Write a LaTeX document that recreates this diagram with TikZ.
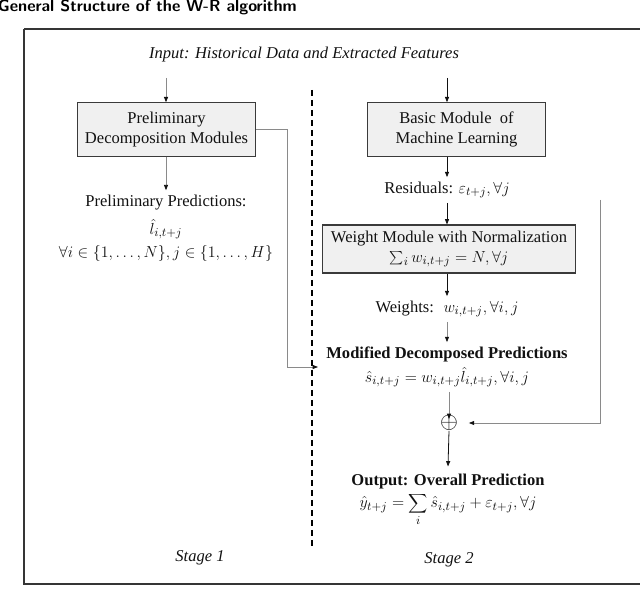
\documentclass[tikz,border=0pt]{standalone}
\usepackage{fontspec}
\setmainfont{Liberation Serif}
\usetikzlibrary{positioning,arrows.meta}
\definecolor{ink}{HTML}{111111}
\definecolor{ink2}{HTML}{8A8A8A}
\definecolor{boxf}{HTML}{F0F0F0}
\definecolor{boxb}{HTML}{3A3A3A}
\newcommand{\bodyfont}{\fontsize{12.4}{15}\selectfont}

\begin{document}
\begin{tikzpicture}[x=0.75pt, y=-0.75pt,
  txt/.style={font=\bodyfont, text=ink, align=center},
  box/.style={txt, draw=boxb, fill=boxf, line width=0.8pt, inner sep=3pt},
  arr/.style={-{Triangle[length=4pt, width=3pt]}, line width=0.6pt, draw=ink},
  arrg/.style={-{Triangle[length=4pt, width=3pt, color=ink]}, line width=0.6pt, draw=ink2}]
\useasboundingbox (0,0) rectangle (640,591);
% ---------------- frame and title
\node[anchor=base east, inner sep=0pt, font=\sffamily\bfseries\fontsize{12.2}{14}\selectfont] (title) at (297,12) {General Structure of the W-R algorithm};
\draw[line width=0.9pt, draw=ink!85] (24,29) -- (660,29) (24,29) -- (24,584) -- (660,584);
\node[txt, font=\bodyfont\itshape] (input) at (304,55) {Input: Historical Data and Extracted Features};
\draw[line width=1pt, dash pattern=on 4.5pt off 3pt] (312,90) -- (312,550);
\coordinate (inL) at (166,78);
\coordinate (inR) at (447,78);
\coordinate (rtop) at (600,200);
% ---------------- stage 1
\node[box, minimum width=134pt, minimum height=40pt] (prelim) at (166.5,129.5) {Preliminary\\Decomposition Modules};
\node[txt] (pp) at (166,228) {Preliminary Predictions:\\[6pt] $\hat{l}_{i,t+j}$\\[2pt] $\forall i\in\{1,\ldots,N\}, j\in\{1,\ldots,H\}$};
\draw[arrg] (inL) -- (prelim.north -| inL);
\draw[arrg] (prelim.south -| pp) -- (pp.north);
\draw[arrg] (prelim.east) -- ++(31,0) |- (318,367);
\node[txt, font=\bodyfont\itshape] (st1) at (200,558) {Stage 1};
% ---------------- stage 2
\node[box, minimum width=133pt, minimum height=40pt] (basic) at (456.5,129.5) {Basic Module~ of\\Machine Learning};
\node[txt] (resid) at (447,190) {Residuals: $\varepsilon_{t+j},\forall j$};
\node[box, minimum width=190pt, minimum height=36pt] (weight) at (449,249) {Weight Module with Normalization\\$\sum_i w_{i,t+j}=N,\forall j$};
\node[txt] (wts) at (447,309) {Weights:~ $w_{i,t+j},\forall i,j$};
\node[txt] (mod) at (447,367) {\textbf{Modified Decomposed Predictions}\\[3pt] $\hat{s}_{i,t+j}=w_{i,t+j}\hat{l}_{i,t+j},\forall i,j$};
\node[txt, font=\fontsize{17}{17}\selectfont, inner sep=0pt] (sum) at (449,423) {$\oplus$};
\node[txt] (out) at (448,500) {\textbf{Output: Overall Prediction}\\[2pt] $\displaystyle\hat{y}_{t+j}=\sum_i\hat{s}_{i,t+j}+\varepsilon_{t+j},\forall j$};
\node[txt, font=\bodyfont\itshape] (st2) at (449,560) {Stage 2};
\draw[arr] (inR) -- (basic.north -| inR);
\draw[arr] (basic.south -| resid) -- (resid.north);
\draw[arr] (resid.south) -- (weight.north -| resid);
\draw[arr] (weight.south -| wts) -- (wts.north);
\draw[arrg] (wts.south) -- (mod.north);
\draw[arrg] (mod.south -| sum) -- ([yshift=-3pt]sum.north);
\draw[arr] (sum.south) -- ([yshift=2pt]out.north);
\draw[arrg] (rtop) |- ([xshift=8pt]sum.east);
\end{tikzpicture}
\end{document}
